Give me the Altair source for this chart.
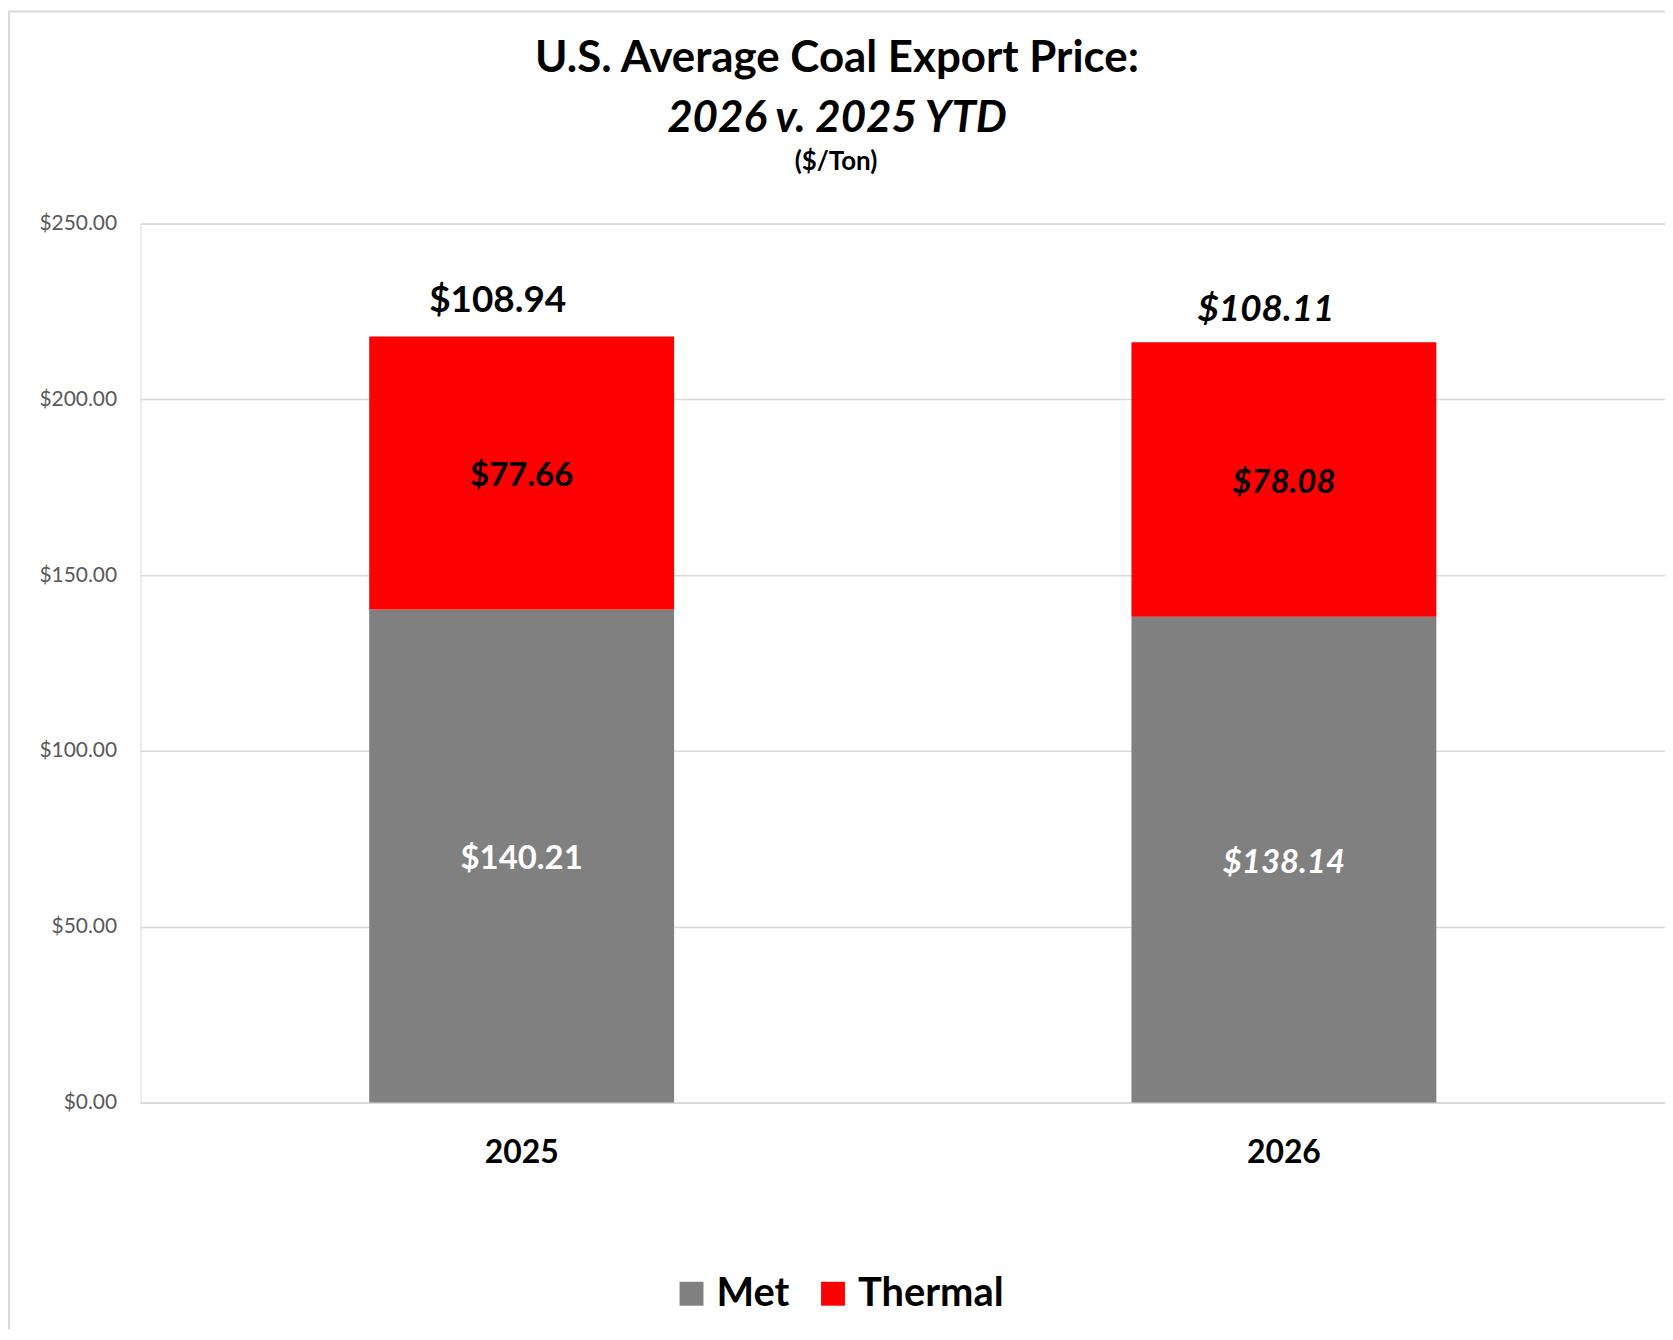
import altair as alt
import pandas as pd

years = ["2025", "2026"]
met = [140.21, 138.14]
thermal = [77.66, 78.08]
avg_price = [108.94, 108.11]
series = ["Met", "Thermal"]
colors = ["#808080", "#ff0000"]
y_ticks = [0, 50, 100, 150, 200, 250]
unit_label = ["($/Ton)"]

FONT = "Lato"

rows = []
for i, yr in enumerate(years):
    rows.append({"year": yr, "series": "Met", "value": met[i], "order": 0})
    rows.append({"year": yr, "series": "Thermal", "value": thermal[i], "order": 1})
df = pd.DataFrame(rows)
totals = pd.DataFrame({
    "year": years,
    "top": [m + t for m, t in zip(met, thermal)],
    "avg": avg_price,
})
unit_df = pd.DataFrame({"t": unit_label})

x_enc = alt.X(
    "year:N",
    sort=years,
    scale=alt.Scale(paddingInner=0.6, paddingOuter=0.3),
    axis=alt.Axis(
        title=None, labelAngle=0, labelFont=FONT, labelFontSize=32,
        labelFontWeight="bold", labelColor="black", labelPadding=35,
        ticks=False, domain=True, domainColor="#d9d9d9", domainWidth=2,
    ),
)

bars = alt.Chart(df).mark_bar().encode(
    x=x_enc,
    y=alt.Y(
        "value:Q", stack="zero",
        scale=alt.Scale(domain=[0, 250], nice=False),
        axis=alt.Axis(
            title=None, values=y_ticks, format="$,.2f", labelFont=FONT,
            labelFontSize=21, labelColor="#595959", labelPadding=24,
            ticks=False, domain=False, grid=True, gridColor="#d9d9d9",
            gridWidth=1.5,
        ),
    ),
    color=alt.Color(
        "series:N",
        scale=alt.Scale(domain=series, range=colors),
        legend=alt.Legend(
            title=None, orient="none", legendX=533, legendY=1054,
            direction="horizontal", symbolType="square", symbolSize=576,
            symbolStrokeWidth=0, labelFont=FONT, labelFontSize=40,
            labelFontWeight="bold", labelColor="black", labelOffset=5,
            columnPadding=23, padding=0,
        ),
    ),
    order=alt.Order("order:Q", sort="ascending"),
)

seg_base = alt.Chart(df).transform_stack(
    stack="value", groupby=["year"], as_=["v0", "v1"],
    sort=[alt.SortField("order", "ascending")],
).transform_calculate(
    mid="(datum.v0 + datum.v1) / 2",
    label="format(datum.value, '$,.2f')",
)


def seg_text(yr, style):
    return seg_base.transform_filter(alt.datum.year == yr).mark_text(
        font=FONT, fontSize=33, fontWeight="bold", fontStyle=style, dy=3,
    ).encode(
        x=alt.X("year:N", sort=years),
        y=alt.Y("mid:Q"),
        text="label:N",
        color=alt.condition(alt.datum.series == "Met", alt.value("white"), alt.value("black")),
    )


def tot_text(yr, style, dx, dy):
    return alt.Chart(totals).transform_filter(alt.datum.year == yr).transform_calculate(
        label="format(datum.avg, '$,.2f')"
    ).mark_text(
        font=FONT, fontSize=37, fontWeight="bold", fontStyle=style,
        color="black", dx=dx, dy=dy,
    ).encode(
        x=alt.X("year:N", sort=years),
        y=alt.Y("top:Q"),
        text="label:N",
    )


unit = alt.Chart(unit_df).mark_text(
    font=FONT, fontSize=26, fontWeight="bold", color="black",
).encode(
    x=alt.value(698), y=alt.value(-62), text="t:N",
)

# light gray chart-area frame (left and top edges)
frame_left = alt.Chart().mark_rule(color="#d9d9d9", strokeWidth=2).encode(
    x=alt.value(-132), y=alt.value(-213), y2=alt.value(1110),
)
frame_top = alt.Chart().mark_rule(color="#d9d9d9", strokeWidth=2).encode(
    x=alt.value(-133), x2=alt.value(1530), y=alt.value(-213),
)

chart = alt.layer(
    frame_left,
    frame_top,
    bars,
    seg_text("2025", "normal"),
    seg_text("2026", "italic"),
    tot_text("2025", "normal", -24, -36),
    tot_text("2026", "italic", -18, -32),
    unit,
).properties(
    width=1530,
    height=882,
    title=alt.Title(
        text="U.S. Average Coal Export Price:",
        subtitle="2026 v. 2025 YTD",
        font=FONT, fontSize=44, fontWeight="bold", color="black",
        subtitleFont=FONT, subtitleFontSize=44, subtitleFontWeight="bold",
        subtitleFontStyle="italic", subtitleColor="black",
        subtitlePadding=16, anchor="middle", frame="group",
        offset=-131, dx=-66,
    ),
    autosize=alt.AutoSizeParams(type="none"),
    padding={"left": 133, "top": 214, "right": 0, "bottom": 228},
).configure_view(stroke=None).configure(background="white")

chart.save("out.html", embed_options={"renderer": "svg", "actions": False})
